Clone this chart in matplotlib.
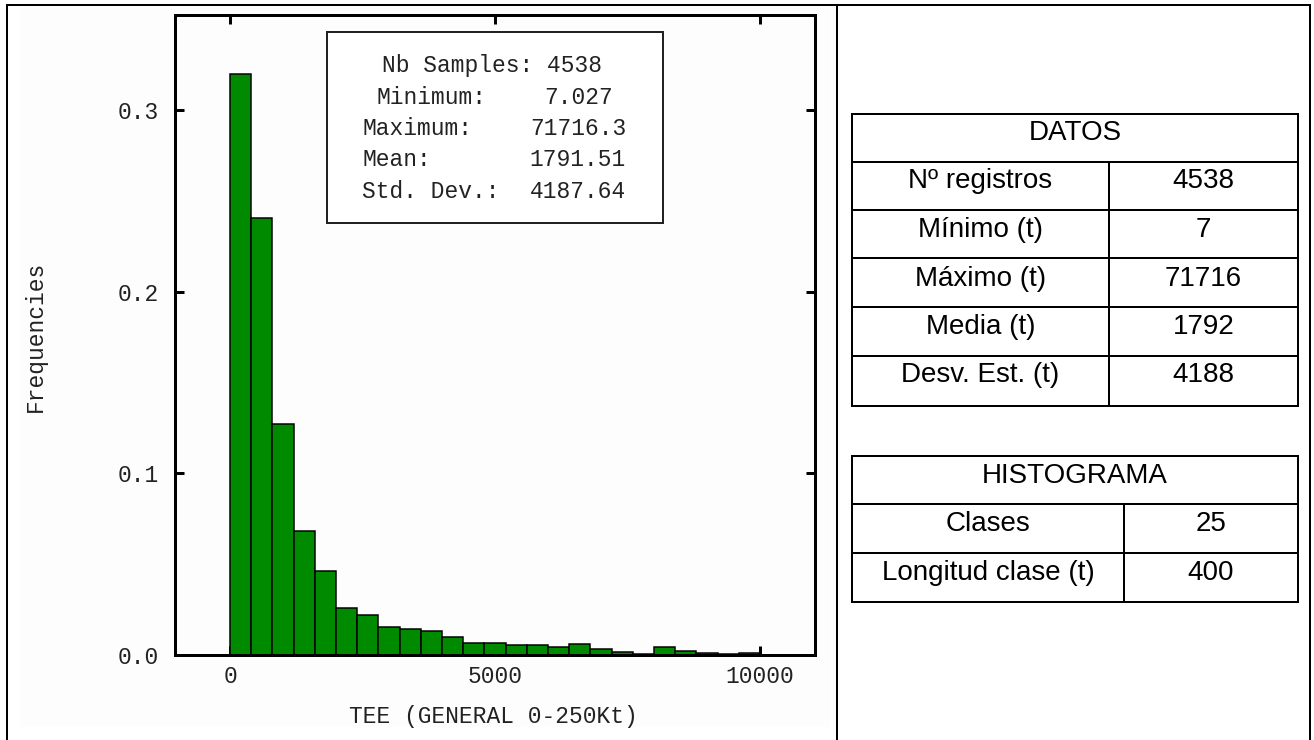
import numpy as np
import matplotlib
matplotlib.use("Agg")
import matplotlib.pyplot as plt
from matplotlib.patches import Rectangle
from matplotlib.lines import Line2D

# ---------------- data ----------------
class_width = 400
n_classes = 25
frequencies = [0.320, 0.2408, 0.127, 0.0685, 0.0465, 0.0257, 0.022, 0.0156,
               0.0145, 0.0132, 0.0101, 0.0068, 0.0068, 0.0055, 0.0055, 0.0042,
               0.0059, 0.0031, 0.0018, 0.0008, 0.0046, 0.0022, 0.0009, 0.0003,
               0.0013]
x_ticks = [0, 5000, 10000]
y_ticks = [0.0, 0.1, 0.2, 0.3]

stats_labels = ["Minimum:", "Maximum:", "Mean:", "Std. Dev.:"]
stats_values = ["7.027", "71716.3", "1791.51", "4187.64"]
stats_header = "Nb Samples: 4538"

datos_title = "DATOS"
datos_rows = ["Nº registros", "Mínimo (t)", "Máximo (t)", "Media (t)", "Desv. Est. (t)"]
datos_vals = ["4538", "7", "71716", "1792", "4188"]
hist_title = "HISTOGRAMA"
hist_rows = ["Clases", "Longitud clase (t)"]
hist_vals = ["25", "400"]

# ---------------- figure ----------------
W, H = 1314, 740
fig = plt.figure(figsize=(W / 100, H / 100), dpi=100)
fig.patch.set_facecolor("white")


def fx(x):
    return x / W


def fy(y):
    return 1 - y / H


MONO = "Liberation Mono"
SANS = "Liberation Sans"
px = 0.72  # points per pixel at dpi 100

# very light background of the chart image
fig.add_artist(Rectangle((fx(20), fy(727)), fx(830) - fx(20), fy(7) - fy(727),
                         transform=fig.transFigure, facecolor="#fdfdfd",
                         edgecolor="none", zorder=-5))

# ---------------- histogram axes ----------------
ax = fig.add_axes([fx(175), fy(655), fx(815) - fx(175), fy(15) - fy(655)])
ax.set_facecolor("#fdfdfd")
lefts = np.arange(n_classes) * class_width
ax.bar(lefts, frequencies, width=class_width, align="edge",
       color="#008a00", edgecolor="black", linewidth=1.5 * px, zorder=2)
ax.set_xlim(-1040, 11040)
ax.set_ylim(0, 0.3526)
ax.set_xticks(x_ticks)
ax.set_xticklabels([str(v) for v in x_ticks])
ax.set_yticks(y_ticks)
ax.set_yticklabels(["%.1f" % v for v in y_ticks])
for s in ax.spines.values():
    s.set_linewidth(3 * px)
    s.set_color("black")
ax.tick_params(direction="in", length=9 * px, width=3 * px,
               top=True, right=True, labelsize=16.5, colors="black")
ax.tick_params(axis="y", pad=16 * px)
ax.tick_params(axis="x", pad=10 * px)
for lab in ax.get_xticklabels() + ax.get_yticklabels():
    lab.set_fontfamily(MONO)
    lab.set_color("#222222")

fig.text(fx(493), fy(716), "TEE (GENERAL 0-250Kt)", family=MONO, fontsize=16.5,
         ha="center", va="center", color="#222222")
fig.text(fx(35), fy(336), "Frequencies", family=MONO, fontsize=16.5,
         ha="center", va="center", rotation=90, color="#222222")

# ---------------- stats box ----------------
fig.add_artist(Rectangle((fx(327), fy(223)), fx(663) - fx(327), fy(32) - fy(223),
                         transform=fig.transFigure, facecolor="white",
                         edgecolor="#222222", linewidth=2 * px, zorder=5))
fig.text(fx(382), fy(72), stats_header, family=MONO, fontsize=16.5,
         ha="left", va="baseline", color="#222222", zorder=6)
label_x = [377, 362, 362, 362]
value_x = [613, 626, 626, 626]
base_y = [103.5, 135, 166.5, 198]
for lab, val, lx, vx, by in zip(stats_labels, stats_values, label_x, value_x, base_y):
    fig.text(fx(lx), fy(by), lab, family=MONO, fontsize=16.5,
             ha="left", va="baseline", color="#222222", zorder=6)
    fig.text(fx(vx), fy(by), val, family=MONO, fontsize=16.5,
             ha="right", va="baseline", color="#222222", zorder=6)

# ---------------- outer frame ----------------
def fline(x0, y0, x1, y1, lw=2):
    fig.add_artist(Line2D([fx(x0), fx(x1)], [fy(y0), fy(y1)],
                          transform=fig.transFigure, color="black",
                          linewidth=lw * px, solid_capstyle="projecting", zorder=10))


fline(7, 5, 1310, 5)
fline(7, 5, 7, 741)
fline(1310, 5, 1310, 741)
fline(837, 5, 837, 741)

# ---------------- tables ----------------
def draw_table(left, right, split, row_edges, title, rows, vals):
    fline(left, row_edges[0], right, row_edges[0])
    fline(left, row_edges[-1], right, row_edges[-1])
    fline(left, row_edges[0], left, row_edges[-1])
    fline(right, row_edges[0], right, row_edges[-1])
    for y in row_edges[1:-1]:
        fline(left, y, right, y)
    fline(split, row_edges[1], split, row_edges[-1])
    fig.text(fx((left + right) / 2), fy(row_edges[0] + 27), title, family=SANS,
             fontsize=20, ha="center", va="baseline", color="black")
    for i, (r, v) in enumerate(zip(rows, vals)):
        top = row_edges[i + 1]
        fig.text(fx((left + split) / 2), fy(top + 27), r, family=SANS,
                 fontsize=20, ha="center", va="baseline", color="black")
        fig.text(fx((split + right) / 2), fy(top + 27), v, family=SANS,
                 fontsize=20, ha="center", va="baseline", color="black")


draw_table(852, 1298, 1109, [113.5, 161.5, 210, 258.5, 307, 355.5, 405.5],
           datos_title, datos_rows, datos_vals)
draw_table(852, 1298, 1124, [456, 504, 553, 602],
           hist_title, hist_rows, hist_vals)

fig.savefig("out.png", dpi=100, facecolor="white")
